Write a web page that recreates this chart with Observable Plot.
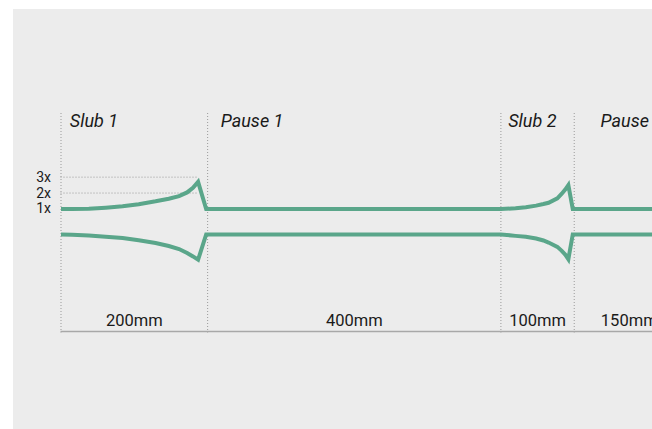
<!DOCTYPE html>
<html>
<head>
<meta charset="utf-8">
<script src="https://cdn.jsdelivr.net/npm/d3@7"></script>
<script src="https://cdn.jsdelivr.net/npm/@observablehq/plot@0.6"></script>
<style>
  html, body { margin: 0; padding: 0; background: #ffffff; overflow: hidden; width: 652px; height: 429px; }
  #panel { position: absolute; left: 13px; top: 9px; width: 720px; height: 420px; background: #ececec; }
  #chart { position: absolute; left: 0; top: 0; width: 720px; height: 429px; }
  #chart svg { max-width: none !important; }
</style>
</head>
<body>
<div id="panel"></div>
<div id="chart"></div>
<script>
// Sections of the slub yarn
const sectionNames   = ["Slub 1", "Pause 1", "Slub 2", "Pause 2"];
const sectionLengths = [200, 400, 100, 150];            // mm
const sectionLabels  = ["200mm", "400mm", "100mm", "150mm"];
const titlePos       = [12, 218, 610, 736];             // mm, where each title starts

// Yarn thickness ticks
const thicknessTicks = [1, 2, 3];

// Slub 1 profile (mm, upper edge, lower edge)
const slub1Pos   = [0, 15, 38, 61, 84, 106, 129, 147, 161, 172, 180, 187, 198];
const slub1Upper = [1.0, 1.0, 1.01, 1.08, 1.17, 1.3, 1.48, 1.64, 1.81, 2.04, 2.33, 2.7, 1.0];
const slub1Lower = [-0.6, -0.62, -0.67, -0.74, -0.83, -0.97, -1.14, -1.33, -1.52, -1.77, -1.98, -2.19, -0.6];

// Slub 2 profile
const slub2Pos   = [600, 620, 634, 648, 658, 665, 677, 683, 688, 692, 698];
const slub2Upper = [1.0, 1.04, 1.11, 1.21, 1.31, 1.39, 1.67, 1.96, 2.23, 2.5, 1.0];
const slub2Lower = [-0.6, -0.69, -0.75, -0.86, -0.98, -1.11, -1.38, -1.63, -1.88, -2.16, -0.6];

// End of the drawn yarn (after Pause 2)
const yarnEndPos   = [850];
const yarnEndUpper = [1.0];
const yarnEndLower = [-0.6];

// ---- build tables ----
const boundaries = [0, ...d3.cumsum(sectionLengths)];
const sections = sectionNames.map((name, i) => ({
  name,
  label: sectionLabels[i],
  start: boundaries[i],
  end: boundaries[i + 1],
  mid: (boundaries[i] + boundaries[i + 1]) / 2,
  titleX: titlePos[i]
}));

const pos   = [...slub1Pos, ...slub2Pos, ...yarnEndPos];
const upper = [...slub1Upper, ...slub2Upper, ...yarnEndUpper];
const lower = [...slub1Lower, ...slub2Lower, ...yarnEndLower];
const yarn = pos.map((x, i) => ({x, upper: upper[i], lower: lower[i]}));

const peak1 = slub1Pos[d3.maxIndex(slub1Upper)];
const yDomain = [-6.7, 7];

const green = "#5aa68a";
const dotted = {stroke: "#9a9a9a", strokeWidth: 1, strokeDasharray: "1,2"};

const chart = Plot.plot({
  width: 720,
  height: 429,
  marginLeft: 60.5,
  marginRight: 36.3,
  marginTop: 113,
  marginBottom: 98,
  style: {background: "transparent", fontFamily: "Roboto, sans-serif", fontSize: "15px", color: "#1a1a1a", maxWidth: "none"},
  x: {domain: [0, 850], axis: null},
  y: {domain: yDomain},
  marks: [
    Plot.ruleY(thicknessTicks.slice(1), {x1: 0, x2: peak1, ...dotted}),
    Plot.ruleX(boundaries, {...dotted, insetBottom: -1.5}),
    Plot.ruleY([yDomain[0]], {x1: 0, x2: 900, stroke: "#a8a8a8", strokeWidth: 1.5}),
    Plot.axisY({ticks: thicknessTicks, tickFormat: d => `${d}x`, tickSize: 0, tickPadding: 10, fontSize: 14, label: null}),
    Plot.line(yarn, {x: "x", y: "upper", stroke: green, strokeWidth: 4, strokeLinejoin: "miter", strokeMiterlimit: 10, strokeLinecap: "butt"}),
    Plot.line(yarn, {x: "x", y: "lower", stroke: green, strokeWidth: 4, strokeLinejoin: "miter", strokeMiterlimit: 10, strokeLinecap: "butt"}),
    Plot.text(sections, {x: "titleX", text: "name", frameAnchor: "top", lineAnchor: "top", dy: 1, textAnchor: "start", fontStyle: "italic", fontSize: 18, fill: "#1a1a1a"}),
    Plot.text(sections, {x: "mid", text: "label", frameAnchor: "bottom", lineAnchor: "bottom", dy: -6, fontSize: 16.5, fill: "#1a1a1a"})
  ]
});
document.getElementById("chart").appendChild(chart);
</script>
</body>
</html>
